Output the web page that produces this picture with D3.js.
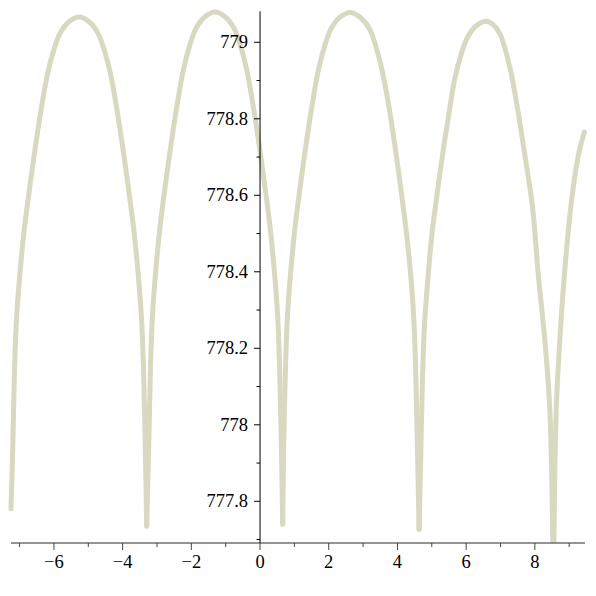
<!DOCTYPE html>
<html>
<head>
<meta charset="utf-8">
<script src="https://cdn.jsdelivr.net/npm/d3@7"></script>
<style>
  html, body { margin: 0; padding: 0; background: #ffffff; }
  svg { display: block; }
</style>
</head>
<body>
<script>
// ---- data ----
const xValues = [
  -7.25, -7.20, -7.15, -7.09, -6.99, -6.87, -6.72, -6.55, -6.37, -6.19, -6.00, -5.82, -5.57, -5.27,
  -4.97, -4.72, -4.54, -4.35, -4.17, -3.99, -3.82, -3.67, -3.55, -3.45, -3.39, -3.34, -3.30,
  -3.24, -3.19, -3.13, -3.03, -2.91, -2.76, -2.59, -2.41, -2.23, -2.04, -1.86, -1.61, -1.31,
  -1.01, -0.76, -0.58, -0.39, -0.21, -0.03, 0.14, 0.29, 0.41, 0.51, 0.57, 0.62, 0.66,
  0.69, 0.74, 0.80, 0.90, 1.02, 1.17, 1.34, 1.52, 1.70, 1.89, 2.07, 2.32, 2.62,
  2.92, 3.18, 3.36, 3.55, 3.74, 3.92, 4.09, 4.24, 4.37, 4.47, 4.53, 4.58, 4.63,
  4.68, 4.73, 4.79, 4.89, 5.00, 5.15, 5.32, 5.50, 5.67, 5.86, 6.04, 6.28, 6.58,
  6.80, 6.99, 7.28, 7.47, 7.70, 7.93, 8.10, 8.30, 8.44, 8.54,
  8.62, 8.72, 8.86, 9.05, 9.27, 9.44
];
const yValues = [
  777.78, 777.936, 778.136, 778.276, 778.396, 778.506, 778.611, 778.721, 778.826, 778.916, 778.981, 779.024, 779.053, 779.066,
  779.053, 779.024, 778.981, 778.916, 778.826, 778.721, 778.611, 778.506, 778.396, 778.276, 778.136, 777.936, 777.735,
  777.949, 778.149, 778.289, 778.409, 778.519, 778.624, 778.734, 778.839, 778.929, 778.994, 779.037, 779.066, 779.079,
  779.066, 779.037, 778.994, 778.929, 778.839, 778.734, 778.624, 778.519, 778.409, 778.289, 778.149, 777.949, 777.74,
  777.948, 778.148, 778.288, 778.408, 778.518, 778.623, 778.733, 778.838, 778.928, 778.993, 779.036, 779.065, 779.078,
  779.065, 779.036, 778.993, 778.928, 778.838, 778.733, 778.623, 778.518, 778.408, 778.288, 778.148, 777.948, 777.726,
  777.925, 778.125, 778.265, 778.385, 778.495, 778.600, 778.710, 778.815, 778.905, 778.970, 779.013, 779.042, 779.055,
  779.045, 779.021, 778.931, 778.841, 778.71, 778.571, 778.392, 778.212, 778.032, 777.55,
  778.034, 778.212, 778.392, 778.572, 778.706, 778.765
];
const xMajorTicks = [-6, -4, -2, 0, 2, 4, 6, 8];
const xTickLabels = ["\u22126", "\u22124", "\u22122", "0", "2", "4", "6", "8"];
const xMinorTicks = [-7, -5, -3, -1, 1, 3, 5, 7, 9];
const yMajorTicks = [777.8, 778.0, 778.2, 778.4, 778.6, 778.8, 779.0];
const yTickLabels = ["777.8", "778", "778.2", "778.4", "778.6", "778.8", "779"];
const yMinorTicks = [777.7, 777.9, 778.1, 778.3, 778.5, 778.7, 778.9];

// ---- layout ----
const W = 596, H = 596;
const FONT = '"Liberation Serif", serif';
const FONT_SIZE = "18.5px";
const x = d3.scaleLinear().domain([-7.25, 9.46]).range([11, 585]);
const y = d3.scaleLinear().domain([777.691, 779.081]).range([543, 11.3]);

const svg = d3.select("body").append("svg").attr("width", W).attr("height", H);
svg.append("rect").attr("width", W).attr("height", H).attr("fill", "#fff");

svg.append("defs").append("clipPath").attr("id", "plotclip")
  .append("rect").attr("x", 0).attr("y", 0).attr("width", W).attr("height", 543);

// split the curve into arches at its local minima (cusps)
const pts = xValues.map((v, i) => [v, yValues[i]]);
const segments = [];
let cur = [pts[0]];
for (let i = 1; i < pts.length; i++) {
  cur.push(pts[i]);
  const isMin = i < pts.length - 1 && pts[i][1] < pts[i - 1][1] && pts[i][1] < pts[i + 1][1];
  if (isMin) { segments.push(cur); cur = [pts[i]]; }
}
segments.push(cur);

const line = d3.line().x(d => x(d[0])).y(d => y(d[1])).curve(d3.curveCatmullRom.alpha(0.5));

svg.append("g").attr("clip-path", "url(#plotclip)")
  .selectAll("path").data(segments).join("path")
  .attr("d", line)
  .attr("fill", "none")
  .attr("stroke", "#d8d9c0")
  .attr("stroke-width", 5)
  .attr("stroke-linejoin", "round")
  .attr("stroke-linecap", "round");

// ---- x axis ----
const xAxisG = svg.append("g");
xAxisG.append("line")
  .attr("x1", x.range()[0]).attr("x2", x.range()[1])
  .attr("y1", 543).attr("y2", 543)
  .attr("stroke", "#707070").attr("stroke-width", 1.5);
xAxisG.selectAll("line.maj").data(xMajorTicks).join("line")
  .attr("class", "maj")
  .attr("x1", d => x(d)).attr("x2", d => x(d))
  .attr("y1", 543).attr("y2", 550)
  .attr("stroke", "#444").attr("stroke-width", 1);
xAxisG.selectAll("line.min").data(xMinorTicks).join("line")
  .attr("class", "min")
  .attr("x1", d => x(d)).attr("x2", d => x(d))
  .attr("y1", 543).attr("y2", 547)
  .attr("stroke", "#444").attr("stroke-width", 1);
xAxisG.selectAll("text.xl").data(xMajorTicks).join("text")
  .attr("class", "xl")
  .attr("x", d => x(d)).attr("y", 568)
  .attr("text-anchor", "middle")
  .style("font-family", FONT).style("font-size", FONT_SIZE).style("fill", "#000")
  .text((d, i) => xTickLabels[i]);

// ---- y axis ----
const y0 = x(0);
const yAxisG = svg.append("g");
yAxisG.append("line")
  .attr("x1", y0).attr("x2", y0)
  .attr("y1", y.range()[1]).attr("y2", 543)
  .attr("stroke", "#000").attr("stroke-width", 1);
yAxisG.selectAll("line.maj").data(yMajorTicks).join("line")
  .attr("class", "maj")
  .attr("x1", y0 - 6).attr("x2", y0)
  .attr("y1", d => y(d)).attr("y2", d => y(d))
  .attr("stroke", "#000").attr("stroke-width", 1);
yAxisG.selectAll("line.min").data(yMinorTicks).join("line")
  .attr("class", "min")
  .attr("x1", y0 - 3.5).attr("x2", y0)
  .attr("y1", d => y(d)).attr("y2", d => y(d))
  .attr("stroke", "#000").attr("stroke-width", 1);
yAxisG.selectAll("text.yl").data(yMajorTicks).join("text")
  .attr("class", "yl")
  .attr("x", y0 - 12).attr("y", d => y(d))
  .attr("dy", "0.33em")
  .attr("text-anchor", "end")
  .style("font-family", FONT).style("font-size", FONT_SIZE).style("fill", "#000")
  .text((d, i) => yTickLabels[i]);
</script>
</body>
</html>
